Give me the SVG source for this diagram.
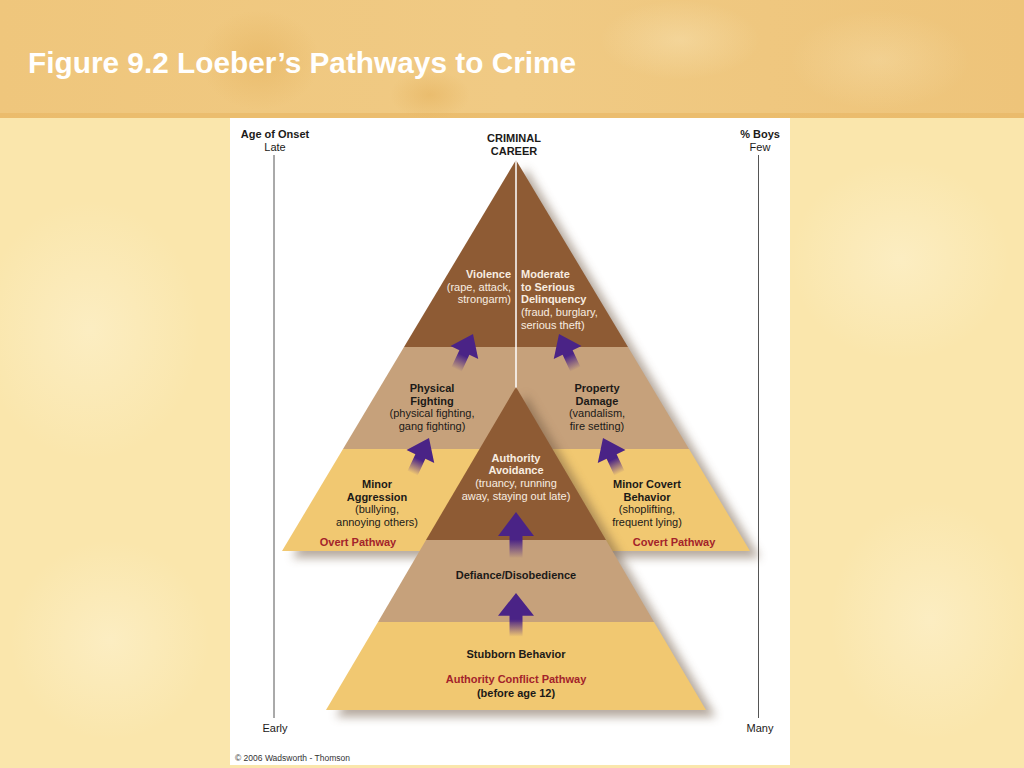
<svg xmlns="http://www.w3.org/2000/svg" width="1024" height="768" viewBox="0 0 1024 768">
  <defs>
    <style>
      .t { font-family: "Liberation Sans", Arial, sans-serif; font-size: 11px; fill: #1c1a18; }
      .b { font-weight: bold; }
      .w { fill: #f8ede0; }
      .r { fill: #a3232b; font-weight: bold; }
      .c { text-anchor: middle; }
      .e { text-anchor: end; }
      .axis { stroke: #555; stroke-width: 1; }
      .brown { fill: #8e5b34; }
      .tan { fill: #c6a17b; }
      .yel { fill: #f1c871; }
      .arrow { fill: url(#ag); }
    </style>
    <linearGradient id="ag" x1="0" y1="0" x2="0" y2="1">
      <stop offset="0" stop-color="#4a2386"/>
      <stop offset="0.6" stop-color="#4a2386"/>
      <stop offset="1" stop-color="#4a2386" stop-opacity="0"/>
    </linearGradient>
    <linearGradient id="banner" x1="0" y1="0" x2="1" y2="0">
      <stop offset="0" stop-color="#efc67c"/>
      <stop offset="0.5" stop-color="#f0ca84"/>
      <stop offset="1" stop-color="#eec47a"/>
    </linearGradient>
    <radialGradient id="blob" cx="0.5" cy="0.5" r="0.5">
      <stop offset="0" stop-color="#fdf2d0" stop-opacity="0.6"/>
      <stop offset="1" stop-color="#fdf2d0" stop-opacity="0"/>
    </radialGradient>
    <radialGradient id="dblob" cx="0.5" cy="0.5" r="0.5">
      <stop offset="0" stop-color="#e6b460" stop-opacity="0.6"/>
      <stop offset="1" stop-color="#e6b460" stop-opacity="0"/>
    </radialGradient>
    <filter id="blur" x="-20%" y="-20%" width="140%" height="140%">
      <feGaussianBlur stdDeviation="5"/>
    </filter>
    <path id="arr" d="M0,0 L18,24 L6.5,24 L6.5,46 L-6.5,46 L-6.5,24 L-18,24 Z"/>
  </defs>

  <!-- background -->
  <rect x="0" y="0" width="1024" height="768" fill="#fae6ac"/>
  <ellipse cx="90" cy="330" rx="110" ry="130" fill="url(#blob)"/>
  <ellipse cx="900" cy="260" rx="110" ry="100" fill="url(#blob)"/>
  <ellipse cx="930" cy="620" rx="100" ry="120" fill="url(#blob)"/>
  <ellipse cx="110" cy="640" rx="100" ry="100" fill="url(#blob)"/>
  <rect x="0" y="0" width="1024" height="118" fill="url(#banner)"/>
  <rect x="0" y="113" width="1024" height="5" fill="#e8b563" opacity="0.6"/>
  <ellipse cx="260" cy="60" rx="60" ry="50" fill="url(#dblob)"/>
  <ellipse cx="430" cy="95" rx="40" ry="25" fill="url(#dblob)"/>
  <ellipse cx="680" cy="40" rx="80" ry="40" fill="url(#blob)" opacity="0.5"/>
  <ellipse cx="880" cy="60" rx="90" ry="50" fill="url(#blob)" opacity="0.4"/>
  <text x="28" y="73" font-family="Liberation Sans, Arial, sans-serif" font-size="29.8" font-weight="bold" fill="#ffffff">Figure 9.2 Loeber’s Pathways to Crime</text>

  <!-- white panel -->
  <rect x="230" y="118" width="560" height="647" fill="#ffffff"/>

  <!-- axes -->
  <g id="axis-left">
    <line class="axis" x1="274" y1="155" x2="274" y2="718"/>
    <text class="t b c" x="275" y="138">Age of Onset</text>
    <text class="t c" x="275" y="151">Late</text>
    <text class="t c" x="275" y="732">Early</text>
  </g>
  <g id="axis-right">
    <line class="axis" x1="758.5" y1="155" x2="758.5" y2="718"/>
    <text class="t b c" x="760" y="138">% Boys</text>
    <text class="t c" x="760" y="151">Few</text>
    <text class="t c" x="760" y="732">Many</text>
  </g>
  <text class="t b c" x="514" y="142">CRIMINAL</text>
  <text class="t b c" x="514" y="155">CAREER</text>

  <!-- outer pyramid -->
  <g id="outer-pyramid">
    <polygon points="526,168 760,558 292,558" fill="#6e5640" opacity="0.5" filter="url(#blur)"/>
    <polygon class="yel" points="343,449 689,449 750,551 282,551"/>
    <polygon class="tan" points="404,347 628,347 689,449 343,449"/>
    <polygon class="brown" points="516,160 628,347 404,347"/>
    <line x1="516" y1="160" x2="516" y2="390" stroke="#ffffff" stroke-width="1.5"/>
  </g>

  <!-- inner pyramid -->
  <g id="inner-pyramid">
    <polygon points="526,395 716,717 336,717" fill="#6e5640" opacity="0.5" filter="url(#blur)"/>
    <polygon class="yel" points="378,622 654,622 706,710 326,710"/>
    <polygon class="tan" points="426,540 606,540 654,622 378,622"/>
    <polygon class="brown" points="516,387 606,540 426,540"/>
  </g>

  <!-- node texts -->
  <g id="violence">
    <text class="t b w e" x="511" y="278">Violence</text>
    <text class="t w e" x="511" y="291">(rape, attack,</text>
    <text class="t w e" x="511" y="303">strongarm)</text>
  </g>
  <g id="delinquency">
    <text class="t b w" x="521" y="278">Moderate</text>
    <text class="t b w" x="521" y="291">to Serious</text>
    <text class="t b w" x="521" y="303">Delinquency</text>
    <text class="t w" x="521" y="316">(fraud, burglary,</text>
    <text class="t w" x="521" y="329">serious theft)</text>
  </g>
  <g id="physical-fighting">
    <text class="t b c" x="432" y="392">Physical</text>
    <text class="t b c" x="432" y="405">Fighting</text>
    <text class="t c" x="432" y="417">(physical fighting,</text>
    <text class="t c" x="432" y="430">gang fighting)</text>
  </g>
  <g id="property-damage">
    <text class="t b c" x="597" y="392">Property</text>
    <text class="t b c" x="597" y="405">Damage</text>
    <text class="t c" x="597" y="417">(vandalism,</text>
    <text class="t c" x="597" y="430">fire setting)</text>
  </g>
  <g id="authority-avoidance">
    <text class="t b w c" x="516" y="462">Authority</text>
    <text class="t b w c" x="516" y="474">Avoidance</text>
    <text class="t w c" x="516" y="487">(truancy, running</text>
    <text class="t w c" x="516" y="500">away, staying out late)</text>
  </g>
  <g id="minor-aggression">
    <text class="t b c" x="377" y="488">Minor</text>
    <text class="t b c" x="377" y="501">Aggression</text>
    <text class="t c" x="377" y="513">(bullying,</text>
    <text class="t c" x="377" y="526">annoying others)</text>
    <text class="t r c" x="358" y="546">Overt Pathway</text>
  </g>
  <g id="minor-covert">
    <text class="t b c" x="647" y="488">Minor Covert</text>
    <text class="t b c" x="647" y="501">Behavior</text>
    <text class="t c" x="647" y="513">(shoplifting,</text>
    <text class="t c" x="647" y="526">frequent lying)</text>
    <text class="t r c" x="674" y="546">Covert Pathway</text>
  </g>
  <g id="defiance">
    <text class="t b c" x="516" y="579">Defiance/Disobedience</text>
  </g>
  <g id="stubborn">
    <text class="t b c" x="516" y="658">Stubborn Behavior</text>
    <text class="t r c" x="516" y="683">Authority Conflict Pathway</text>
    <text class="t b c" x="516" y="697">(before age 12)</text>
  </g>

  <!-- connectors (arrows) -->
  <g id="connectors">
    <use href="#arr" class="arrow" transform="translate(473,334) rotate(25) scale(0.85)"/>
    <use href="#arr" class="arrow" transform="translate(559,334) rotate(-25) scale(0.85)"/>
    <use href="#arr" class="arrow" transform="translate(429,438) rotate(25) scale(0.85)"/>
    <use href="#arr" class="arrow" transform="translate(603,438) rotate(-25) scale(0.85)"/>
    <use href="#arr" class="arrow" transform="translate(516,512)"/>
    <use href="#arr" class="arrow" transform="translate(516,593) scale(1,0.95)"/>
  </g>

  <text x="235" y="761" font-family="Liberation Sans, Arial, sans-serif" font-size="8.5" fill="#333">© 2006 Wadsworth - Thomson</text>
</svg>
